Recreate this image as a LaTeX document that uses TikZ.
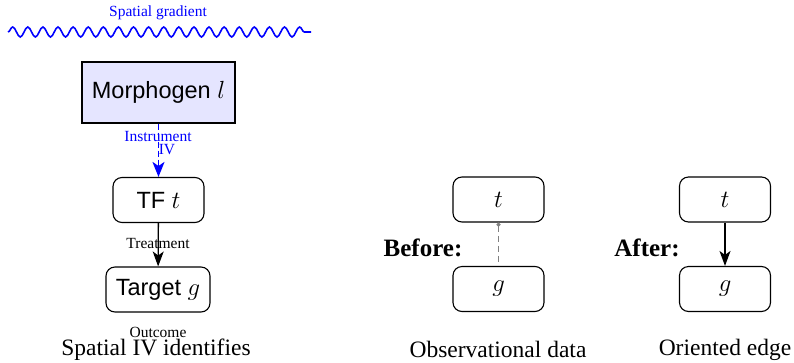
\documentclass[tikz,border=0pt]{standalone}
\usepackage{fontspec}
\setmainfont{Liberation Serif}
\setsansfont{Liberation Sans}
\usetikzlibrary{decorations.pathmorphing,arrows.meta}
\newcommand\nodefont{\sffamily\fontsize{23.5bp}{27bp}\selectfont}
\newcommand\capfont{\fontsize{23.5bp}{27bp}\selectfont}
\newcommand\boldcapfont{\bfseries\fontsize{25bp}{29bp}\selectfont}
\newcommand\lblfont{\fontsize{15.5bp}{13bp}\selectfont}
\begin{document}
\begin{tikzpicture}[x=1bp,y=-1bp,
  box/.style={draw, line width=1.1bp, rounded corners=9bp, minimum width=91bp, minimum height=45bp, inner sep=0pt, font=\nodefont},
  lbl/.style={font=\lblfont, inner sep=0pt},
  captext/.style={font=\capfont, inner sep=0pt},
  arr/.style={line width=1.3bp, -{Stealth[length=15bp,width=11bp,inset=4bp]}},
  ivarr/.style={blue, line width=1.8bp, dash pattern=on 6bp off 3bp, -{Stealth[length=15bp,width=12bp,inset=4bp]}},
  wavy/.style={blue, line width=1.6bp, decorate, decoration={snake, segment length=15.1bp, amplitude=5bp}}
]
\useasboundingbox (0,0) rectangle (794,362);
% spatial gradient
\node[lbl, text=blue] (sg) at (158,13) {Spatial gradient};
\coordinate (w1) at (8,32);
\coordinate (w2) at (311,32);
\draw[wavy] (w1) -- (w2);
% left diagram
\node[draw, line width=1.1bp, fill=blue!10, minimum width=153bp, minimum height=61bp, inner sep=0pt, font=\nodefont] (morph) at (158.5,92.5) {Morphogen $l$};
\node[box] (tf) at (158.5,200) {TF $t$};
\node[box, minimum width=104bp] (target) at (158,289.5) {Target $g$};
\draw[ivarr] (morph) -- (tf);
\draw[arr] (tf) -- (target);
\node[lbl, text=blue, align=center] (iv) at (158,143.5) {Instrument\\\hspace*{18bp}IV};
\node[lbl] (treat) at (158,243) {Treatment};
\node[lbl] (outc) at (158,332) {Outcome};
\node[captext] (c1) at (156,349.5) {Spatial IV identifies};
% before
\node[box] (bt) at (498.5,199.5) {$t$};
\node[box] (bg) at (498.5,289) {$g$};
\draw[gray, line width=1.2bp, dash pattern=on 6bp off 4bp, {Circle[length=4bp]}-] (bt) -- (bg);
\node[inner sep=0pt, font=\boldcapfont] (bef) at (423,248) {Before:};
\node[captext] (c2) at (498,349.5) {Observational data};
% after
\node[box] (aftT) at (725,199.5) {$t$};
\node[box] (aftG) at (725,289) {$g$};
\draw[arr] (aftT) -- (aftG);
\node[inner sep=0pt, font=\boldcapfont] (aft) at (647,248) {After:};
\node[captext] (c3) at (725,349.5) {Oriented edge};
\end{tikzpicture}
\end{document}
